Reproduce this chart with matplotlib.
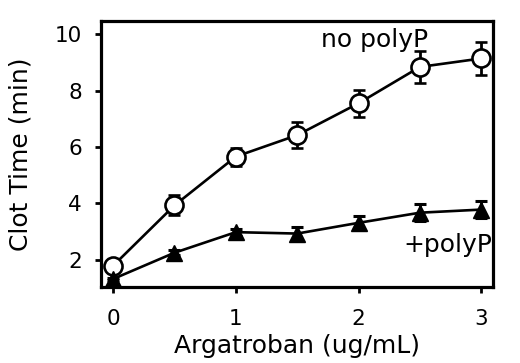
import matplotlib
matplotlib.use("Agg")
import matplotlib.pyplot as plt

plt.rcParams['font.family'] = ['DejaVu Sans']

dose = [0, 0.5, 1, 1.5, 2, 2.5, 3]
no_polyp = [1.79, 3.93, 5.66, 6.42, 7.55, 8.84, 9.14]
no_polyp_err = [0.1, 0.35, 0.32, 0.45, 0.47, 0.57, 0.57]
plus_polyp = [1.32, 2.25, 2.98, 2.93, 3.31, 3.67, 3.78]
plus_polyp_err = [0.05, 0.08, 0.12, 0.22, 0.23, 0.3, 0.31]

fig = plt.figure(figsize=(5.2, 3.63), dpi=100)
ax = fig.add_axes([0.194, 0.209, 0.755, 0.734])

ax.errorbar(dose, no_polyp, yerr=no_polyp_err, color='black', lw=1.9,
            marker='o', ms=13, mfc='white', mec='black', mew=1.9,
            capsize=4.2, capthick=2.2, elinewidth=2, zorder=3)
ax.errorbar(dose, plus_polyp, yerr=plus_polyp_err, color='black', lw=1.9,
            marker='^', ms=11.5, mfc='black', mec='black',
            capsize=4.2, capthick=2.2, elinewidth=2, zorder=3)

ax.text(2.134, 9.56, 'no polyP', fontsize=18, ha='center', va='baseline')
ax.text(3.087, 2.26, '+polyP', fontsize=18, ha='right', va='baseline')

ax.set_xlim(-0.1, 3.1)
ax.set_ylim(1.03, 10.48)
ax.set_xticks([0, 1, 2, 3])
ax.set_yticks([2, 4, 6, 8, 10])
ax.tick_params(direction='out', length=4.5, width=2, labelsize=15.5)
ax.tick_params(axis='x', pad=11)
ax.tick_params(axis='y', pad=9)
for s in ax.spines.values():
    s.set_linewidth(2.3)

ax.set_xlabel('Argatroban (ug/mL)', fontsize=18, labelpad=4)
ax.set_ylabel('Clot Time (min)', fontsize=18, labelpad=16)

fig.savefig('out.png', dpi=100)
